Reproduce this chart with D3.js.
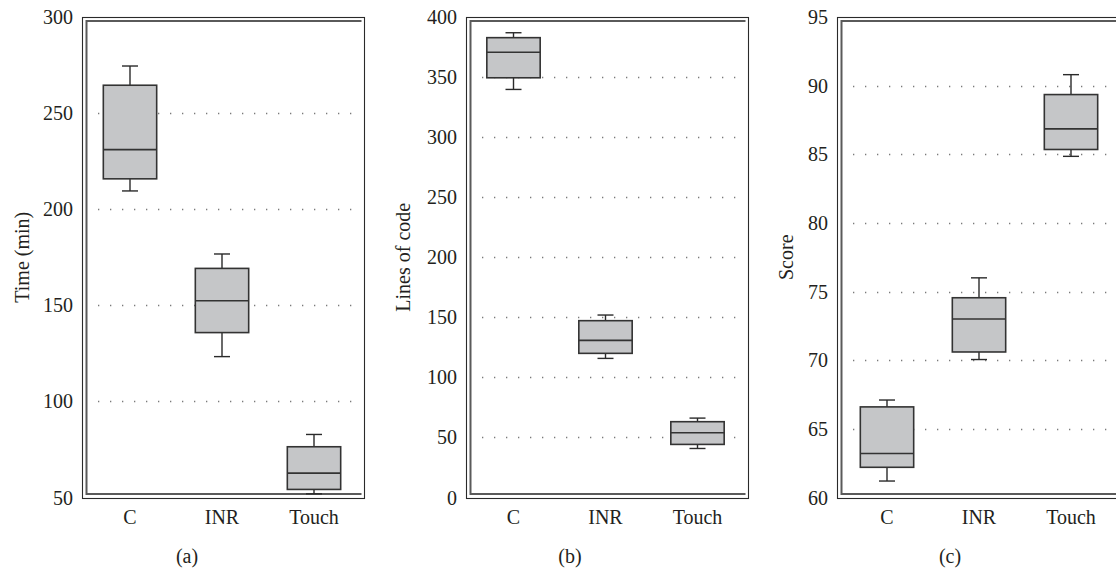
<!DOCTYPE html>
<html>
<head>
<meta charset="utf-8">
<script src="https://cdn.jsdelivr.net/npm/d3@7"></script>
<style>
  html, body { margin: 0; padding: 0; background: #fff; }
  svg { display: block; font-family: "Liberation Serif", "Times New Roman", serif; }
</style>
</head>
<body>
<svg id="chart" width="1116" height="573"></svg>
<script>
// data: five-number summaries [min, q1, median, q3, max]
const categories = ["C", "INR", "Touch"];

const timeStats = [
    [209.5, 215.8, 231.0, 264.5, 274.5],
    [123.3, 135.8, 152.4, 169.2, 176.7],
    [51.9, 54.2, 62.7, 76.4, 82.8]
];
const timeTicks = [50, 100, 150, 200, 250, 300];

const locStats = [
    [339.7, 349.4, 370.6, 382.8, 386.9],
    [115.8, 120.0, 130.8, 147.2, 151.9],
    [40.8, 44.2, 53.9, 63.1, 66.1]
];
const locTicks = [0, 50, 100, 150, 200, 250, 300, 350, 400];

const scoreStats = [
    [61.2, 62.2, 63.2, 66.6, 67.1],
    [70.05, 70.6, 73.0, 74.55, 76.0],
    [84.85, 85.35, 86.85, 89.35, 90.8]
];
const scoreTicks = [60, 65, 70, 75, 80, 85, 90, 95];

const panels = [
    { stats: timeStats, ticks: timeTicks, domain: [50, 300], title: "Time (min)", tag: "(a)",
      left: 82, bandLeft: 84, titleX: 29, tagX: 187 },
    { stats: locStats, ticks: locTicks, domain: [0, 400], title: "Lines of code", tag: "(b)",
      left: 466, bandLeft: 467.5, titleX: 410, tagX: 570 },
    { stats: scoreStats, ticks: scoreTicks, domain: [60, 95], title: "Score", tag: "(c)",
      left: 837, bandLeft: 841, titleX: 793, tagX: 950 }
];

const svg = d3.select("#chart");
const plotTop = 17, plotBottom = 497.5, frameW = 282;
const textColor = "#231f20";

panels.forEach(p => {
    const g = svg.append("g");
    const right = p.left + frameW;

    const y = d3.scaleLinear().domain(p.domain).range([plotBottom, plotTop]);
    const x = d3.scaleBand()
        .domain(categories)
        .range([p.bandLeft, p.bandLeft + 276])
        .paddingInner(0.42)
        .paddingOuter(0.21);

    // dotted gridlines (not on the extreme ticks)
    g.append("g")
        .selectAll("line")
        .data(p.ticks.slice(1, -1))
        .join("line")
        .attr("x1", p.left + 16)
        .attr("x2", right - 8)
        .attr("y1", d => Math.round(y(d)) + 0.5)
        .attr("y2", d => Math.round(y(d)) + 0.5)
        .attr("stroke", "#7a7a7a")
        .attr("stroke-width", 1.3)
        .attr("stroke-dasharray", "1.3,10.7");

    // frame: thin dark outer rectangle plus thicker grey inner lines
    g.append("rect")
        .attr("x", p.left + 0.5)
        .attr("y", plotTop + 0.5)
        .attr("width", frameW)
        .attr("height", plotBottom - plotTop + 0.5)
        .attr("fill", "none")
        .attr("stroke", "#2a2a2a")
        .attr("stroke-width", 1.1);

    const innerL = p.left + 4.5, innerT = plotTop + 4, innerB = plotBottom - 3.5, innerR = right - 2.5;
    g.append("path")
        .attr("d", `M${innerR},${innerT}H${innerL}V${innerB}H${innerR}`)
        .attr("fill", "none")
        .attr("stroke", "#5a5a5a")
        .attr("stroke-width", 2);

    // y tick labels
    g.append("g")
        .selectAll("text")
        .data(p.ticks)
        .join("text")
        .attr("x", p.left - 9)
        .attr("y", d => y(d))
        .attr("dy", "0.35em")
        .attr("text-anchor", "end")
        .attr("font-size", 20)
        .attr("fill", textColor)
        .text(d => d);

    // boxes
    const boxes = g.append("g")
        .selectAll("g")
        .data(p.stats.map((s, i) => ({ cat: categories[i], s })))
        .join("g");

    const cx = d => x(d.cat) + x.bandwidth() / 2;
    const capHalf = 8;

    boxes.append("line")
        .attr("x1", cx).attr("x2", cx)
        .attr("y1", d => y(d.s[0])).attr("y2", d => y(d.s[1]))
        .attr("stroke", "#2a2a2a").attr("stroke-width", 1.4);
    boxes.append("line")
        .attr("x1", cx).attr("x2", cx)
        .attr("y1", d => y(d.s[3])).attr("y2", d => y(d.s[4]))
        .attr("stroke", "#2a2a2a").attr("stroke-width", 1.4);
    boxes.append("line")
        .attr("x1", d => cx(d) - capHalf).attr("x2", d => cx(d) + capHalf)
        .attr("y1", d => y(d.s[0])).attr("y2", d => y(d.s[0]))
        .attr("stroke", "#2a2a2a").attr("stroke-width", 1.4);
    boxes.append("line")
        .attr("x1", d => cx(d) - capHalf).attr("x2", d => cx(d) + capHalf)
        .attr("y1", d => y(d.s[4])).attr("y2", d => y(d.s[4]))
        .attr("stroke", "#2a2a2a").attr("stroke-width", 1.4);

    boxes.append("rect")
        .attr("x", d => x(d.cat))
        .attr("width", x.bandwidth())
        .attr("y", d => y(d.s[3]))
        .attr("height", d => y(d.s[1]) - y(d.s[3]))
        .attr("fill", "#c5c6c8")
        .attr("stroke", "#333")
        .attr("stroke-width", 1.6);

    boxes.append("line")
        .attr("x1", d => x(d.cat)).attr("x2", d => x(d.cat) + x.bandwidth())
        .attr("y1", d => y(d.s[2])).attr("y2", d => y(d.s[2]))
        .attr("stroke", "#333").attr("stroke-width", 1.6);

    // category labels
    g.append("g")
        .selectAll("text")
        .data(categories)
        .join("text")
        .attr("x", d => x(d) + x.bandwidth() / 2)
        .attr("y", 524)
        .attr("text-anchor", "middle")
        .attr("font-size", 20)
        .attr("fill", textColor)
        .text(d => d);

    // axis title
    g.append("text")
        .attr("transform", `translate(${p.titleX},${(plotTop + plotBottom) / 2}) rotate(-90)`)
        .attr("text-anchor", "middle")
        .attr("font-size", 20)
        .attr("fill", textColor)
        .text(p.title);

    // panel tag
    g.append("text")
        .attr("x", p.tagX)
        .attr("y", 563)
        .attr("text-anchor", "middle")
        .attr("font-size", 20)
        .attr("fill", textColor)
        .text(p.tag);
});
</script>
</body>
</html>
